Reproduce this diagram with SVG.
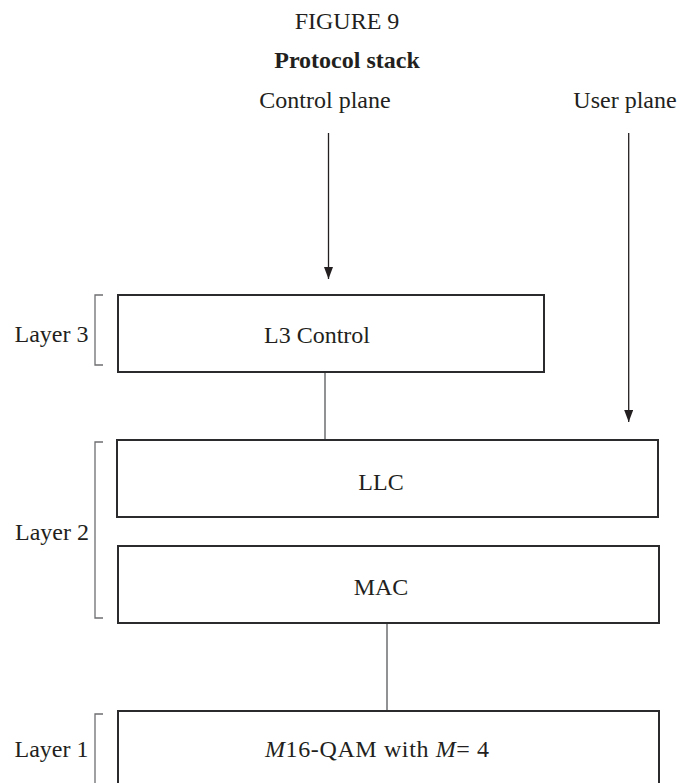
<svg xmlns="http://www.w3.org/2000/svg" width="679" height="783" viewBox="0 0 679 783">
  <defs>
    <marker id="arrow" viewBox="0 0 12 9" refX="12" refY="4.5" markerWidth="12" markerHeight="9" markerUnits="userSpaceOnUse" orient="auto">
      <path d="M0,0 L12,4.5 L0,9 z" fill="#231f20"/>
    </marker>
    <style>
      text { font-family: "Liberation Serif", "Times New Roman", serif; font-size: 24px; fill: #231f20; }
      .mid { text-anchor: middle; }
      .end { text-anchor: end; }
      .bold { font-weight: bold; }
      .box { fill: #ffffff; stroke: #2b2b2d; stroke-width: 2; }
      .link { stroke: #6d6e70; stroke-width: 1.5; fill: none; }
      .flow { stroke: #231f20; stroke-width: 1.3; fill: none; }
      .brace { stroke: #6d6e70; stroke-width: 1.3; fill: none; }
    </style>
  </defs>
  <rect width="679" height="783" fill="#ffffff"/>

  <!-- heading -->
  <text class="mid" x="347" y="29">FIGURE 9</text>
  <text class="mid bold" x="347" y="68">Protocol stack</text>
  <text class="mid" x="325" y="108">Control plane</text>
  <text class="mid" x="625" y="108">User plane</text>

  <!-- layer brackets -->
  <g id="layer3">
    <path class="brace" d="M103,295 H95 V365 H103"/>
    <text class="end" x="88.5" y="342">Layer 3</text>
  </g>
  <g id="layer2">
    <path class="brace" d="M103,442 H95 V618 H103"/>
    <text class="end" x="89" y="540">Layer 2</text>
  </g>
  <g id="layer1">
    <path class="brace" d="M103,714 H95 V790"/>
    <text class="end" x="88.5" y="757">Layer 1</text>
  </g>

  <!-- connectors -->
  <g id="connectors">
    <line class="flow" x1="328.5" y1="133" x2="328.5" y2="279" marker-end="url(#arrow)"/>
    <line class="flow" x1="628.7" y1="133" x2="628.7" y2="422" marker-end="url(#arrow)"/>
    <line class="link" x1="325" y1="372" x2="325" y2="440"/>
    <line class="link" x1="387" y1="623" x2="387" y2="711"/>
  </g>

  <!-- protocol blocks -->
  <g id="l3-control">
    <rect class="box" x="118" y="295" width="426" height="77"/>
    <text class="mid" x="317" y="343">L3 Control</text>
  </g>
  <g id="llc">
    <rect class="box" x="117" y="440" width="541" height="77"/>
    <text class="mid" x="381" y="490">LLC</text>
  </g>
  <g id="mac">
    <rect class="box" x="118" y="546" width="541" height="77"/>
    <text class="mid" x="381" y="595">MAC</text>
  </g>
  <g id="phy">
    <rect class="box" x="118" y="711" width="541" height="90"/>
    <text x="265" y="757" textLength="224" lengthAdjust="spacing"><tspan font-style="italic">M</tspan>16-QAM with <tspan font-style="italic">M</tspan>= 4</text>
  </g>
</svg>
